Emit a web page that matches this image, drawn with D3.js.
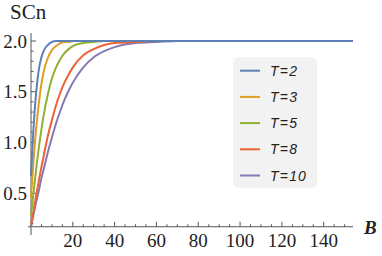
<!DOCTYPE html>
<html>
<head>
<meta charset="utf-8">
<script src="https://cdn.jsdelivr.net/npm/d3@7"></script>
<style>
    body { margin: 0; background: #fff; }
    #chart { width: 382px; height: 256px; }
</style>
</head>
<body>
<div id="chart"></div>
<script>
const bValues = [0, 1, 2, 3, 4, 5, 6, 8, 10, 12, 14, 16, 18, 20, 25, 30, 35, 40, 50, 60, 70, 80, 100, 120, 140, 154];

// SCn for each temperature
const scnT2  = [0.67, 1.07, 1.38, 1.60, 1.75, 1.84, 1.90, 1.96, 1.99, 2.00, 2.00, 2.00, 2.00, 2.00, 2.00, 2.00, 2.00, 2.00, 2.00, 2.00, 2.00, 2.00, 2.00, 2.00, 2.00, 2.00];
const scnT3  = [0.46, 0.76, 1.03, 1.25, 1.43, 1.58, 1.69, 1.83, 1.91, 1.95, 1.98, 1.99, 1.99, 2.00, 2.00, 2.00, 2.00, 2.00, 2.00, 2.00, 2.00, 2.00, 2.00, 2.00, 2.00, 2.00];
const scnT5  = [0.28, 0.47, 0.65, 0.83, 0.99, 1.13, 1.26, 1.47, 1.63, 1.74, 1.82, 1.88, 1.92, 1.95, 1.98, 1.99, 2.00, 2.00, 2.00, 2.00, 2.00, 2.00, 2.00, 2.00, 2.00, 2.00];
const scnT8  = [0.19, 0.30, 0.42, 0.54, 0.65, 0.76, 0.86, 1.06, 1.22, 1.37, 1.49, 1.59, 1.67, 1.74, 1.86, 1.92, 1.96, 1.98, 1.99, 2.00, 2.00, 2.00, 2.00, 2.00, 2.00, 2.00];
const scnT10 = [0.17, 0.27, 0.37, 0.46, 0.55, 0.65, 0.73, 0.90, 1.05, 1.19, 1.31, 1.42, 1.51, 1.59, 1.74, 1.84, 1.90, 1.94, 1.98, 1.99, 2.00, 2.00, 2.00, 2.00, 2.00, 2.00];

const seriesNames = ["T=2", "T=3", "T=5", "T=8", "T=10"];
const seriesColors = ["#5e81b5", "#e19c24", "#8fb032", "#eb6235", "#8778b3"];

const xTickValues = [20, 40, 60, 80, 100, 120, 140];
const yTickValues = [0.5, 1.0, 1.5, 2.0];

class CurveVis {
    constructor(parentElement) {
        this.parentElement = parentElement;
        this.series = [scnT2, scnT3, scnT5, scnT8, scnT10].map((vals, i) => ({
            name: seriesNames[i],
            colour: seriesColors[i],
            values: vals.map((v, j) => ({b: bValues[j], v: v}))
        }));
        this.initVis();
    }

    initVis() {
        let vis = this;

        vis.svg = d3.select(vis.parentElement).append("svg")
            .attr("width", 382)
            .attr("height", 256);

        vis.x = d3.scaleLinear().domain([0, 154]).range([31, 353]);
        vis.y = d3.scaleLinear().domain([0, 2]).range([244, 41]);

        let axisY = vis.y(0.17); // where the B axis crosses
        let axisColour = "#555";

        // axes lines
        vis.svg.append("line")
            .attr("x1", 28).attr("x2", 353)
            .attr("y1", axisY).attr("y2", axisY)
            .attr("stroke", axisColour);
        vis.svg.append("line")
            .attr("x1", vis.x(0)).attr("x2", vis.x(0))
            .attr("y1", 33).attr("y2", 235)
            .attr("stroke", axisColour);

        // x ticks, pointing up
        let xMinor = d3.range(5, 151, 5);
        vis.svg.append("g").selectAll("line")
            .data(xMinor)
            .join("line")
            .attr("x1", d => vis.x(d)).attr("x2", d => vis.x(d))
            .attr("y1", axisY)
            .attr("y2", d => axisY - (d % 20 === 0 ? 5 : 2.5))
            .attr("stroke", axisColour);

        vis.svg.append("g").selectAll("text")
            .data(xTickValues)
            .join("text")
            .attr("x", d => vis.x(d))
            .attr("y", 247)
            .attr("text-anchor", "middle")
            .attr("font-family", "Liberation Serif, serif")
            .attr("font-size", 19)
            .attr("fill", "#222")
            .text(d => d);

        // y ticks, pointing right
        let yMinor = d3.range(2, 21).map(d => d / 10);
        vis.svg.append("g").selectAll("line")
            .data(yMinor)
            .join("line")
            .attr("x1", vis.x(0))
            .attr("x2", d => vis.x(0) + (Math.round(d * 10) % 5 === 0 ? 5 : 2.5))
            .attr("y1", d => vis.y(d)).attr("y2", d => vis.y(d))
            .attr("stroke", axisColour);

        vis.svg.append("g").selectAll("text")
            .data(yTickValues)
            .join("text")
            .attr("x", 27)
            .attr("y", d => vis.y(d))
            .attr("dy", "0.35em")
            .attr("text-anchor", "end")
            .attr("font-family", "Liberation Serif, serif")
            .attr("font-size", 19)
            .attr("fill", "#222")
            .text(d => d3.format(".1f")(d));

        // axis labels
        vis.svg.append("text")
            .attr("x", 10).attr("y", 19)
            .attr("font-family", "Liberation Serif, serif")
            .attr("font-size", 21)
            .attr("fill", "#222")
            .text("SCn");
        vis.svg.append("text")
            .attr("x", 364).attr("y", 234)
            .attr("font-family", "Liberation Serif, serif")
            .attr("font-size", 19)
            .attr("font-weight", "bold")
            .attr("font-style", "italic")
            .attr("fill", "#222")
            .text("B");

        // curves
        vis.line = d3.line()
            .x(d => vis.x(d.b))
            .y(d => vis.y(d.v))
            .curve(d3.curveMonotoneX);

        vis.svg.append("g").selectAll("path")
            .data(vis.series.slice().reverse())
            .join("path")
            .attr("d", d => vis.line(d.values))
            .attr("fill", "none")
            .attr("stroke", d => d.colour)
            .attr("stroke-width", 2);

        // legend
        let legend = vis.svg.append("g");
        legend.append("rect")
            .attr("x", 233).attr("y", 57)
            .attr("width", 84).attr("height", 131)
            .attr("rx", 6)
            .attr("fill", "#f2f2f2");

        let items = legend.selectAll("g.item")
            .data(vis.series)
            .join("g")
            .attr("class", "item")
            .attr("transform", (d, i) => `translate(0, ${70.7 + i * 26.2})`);
        items.append("line")
            .attr("x1", 240).attr("x2", 260)
            .attr("stroke", d => d.colour)
            .attr("stroke-width", 2);
        items.append("text")
            .attr("x", 270)
            .attr("dy", "0.36em")
            .attr("font-family", "Liberation Sans, Arial, sans-serif")
            .attr("font-size", 14)
            .attr("font-style", "italic")
            .attr("letter-spacing", 1.2)
            .attr("fill", "#222")
            .text(d => d.name);
    }
}

new CurveVis(document.getElementById("chart"));
</script>
</body>
</html>
